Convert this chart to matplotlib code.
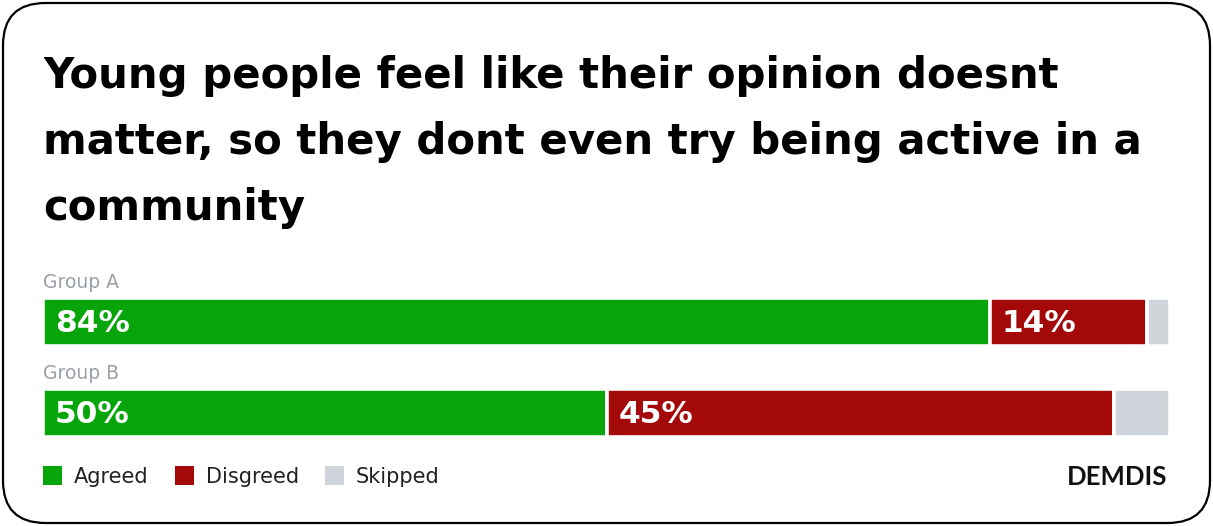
import matplotlib.pyplot as plt
from matplotlib.patches import FancyBboxPatch, Rectangle

W, H = 1213, 526

title_lines = ["Young people feel like their opinion doesnt",
               "matter, so they dont even try being active in a",
               "community"]
groups = ["Group A", "Group B"]
agreed = [84, 50]
disagreed = [14, 45]
skipped = [2, 5]
series_names = ["Agreed", "Disgreed", "Skipped"]
colors = ["#08a50a", "#a30909", "#cfd4db"]

fig = plt.figure(figsize=(W / 100, H / 100), dpi=100)
fig.patch.set_facecolor("white")


def fx(px):
    return px / W


def fy(py):
    # pixel row from the top -> figure fraction
    return 1 - py / H


# rounded frame around the card
frame = FancyBboxPatch((fx(3), fy(523)), fx(1207), 520 / H,
                       boxstyle="round,pad=0,rounding_size=0.035",
                       transform=fig.transFigure, facecolor="none",
                       edgecolor="black", linewidth=1.6, mutation_aspect=W / H,
                       zorder=-1)
fig.patches.append(frame)

for i, line in enumerate(title_lines):
    fig.text(fx(43), fy(88 + 66 * i), line, fontsize=30.2, fontweight="bold",
             color="black", va="baseline", ha="left", family="DejaVu Sans")

# bars
bar_h = 48 / 91
ax = fig.add_axes([fx(43), fy(436.5), fx(1127), 139 / H])
ax.set_xlim(0, sum([agreed[0], disagreed[0], skipped[0]]))
ax.set_ylim(1 + bar_h / 2, -bar_h / 2)
ax.axis("off")

ypos = range(len(groups))
lefts = [0] * len(groups)
for vals, col in zip([agreed, disagreed, skipped], colors):
    ax.barh(ypos, vals, left=lefts, height=bar_h, color=col,
            edgecolor="white", linewidth=2.6)
    if col != colors[2]:
        for y, v, l in zip(ypos, vals, lefts):
            ax.text(l + 1.05, y + 0.02, f"{v}%", color="white", fontsize=22.5,
                    fontweight="bold", va="center", ha="left")
    lefts = [a + b for a, b in zip(lefts, vals)]

# group labels
for y, g in zip(ypos, groups):
    ax.text(0, y - bar_h / 2 - 0.06, g, color="#9aa0a8", fontsize=13.5,
            va="bottom", ha="left", clip_on=False)

# legend
leg_x = [43, 175, 325]
for x, name, col in zip(leg_x, series_names, colors):
    fig.patches.append(Rectangle((fx(x), fy(485)), fx(19), 19 / H,
                                 transform=fig.transFigure, facecolor=col,
                                 edgecolor="none"))
    fig.text(fx(x + 31), fy(477), name, fontsize=15, color="#222222",
             va="center", ha="left")

fig.text(fx(1167), fy(477), "DEMDIS", fontsize=18.5, fontweight="bold",
         color="#111111", va="center", ha="right", family="Lato")

fig.savefig("out.png", dpi=100, facecolor="white")
